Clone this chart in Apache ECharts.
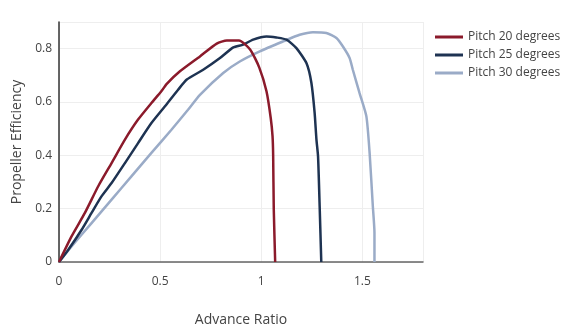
<!DOCTYPE html>
<html>
<head>
<meta charset="utf-8">
<script src="https://cdn.jsdelivr.net/npm/echarts@6/dist/echarts.min.js"></script>
<style>
  html, body { margin: 0; padding: 0; background: #fff; }
  #chart { width: 567px; height: 336px; }
</style>
</head>
<body>
<div id="chart"></div>
<script>
// Propeller efficiency vs advance ratio for three blade pitch settings
const seriesNames = ['Pitch 20 degrees', 'Pitch 25 degrees', 'Pitch 30 degrees'];
const seriesColors = ['#8b1a2b', '#1e3352', '#9aabc7'];

const pitch20J   = [0, 0.062, 0.128, 0.194, 0.26, 0.326, 0.391, 0.457, 0.506, 0.533, 0.598, 0.697, 0.78, 0.83, 0.89, 0.945, 0.99, 1.026, 1.047, 1.056, 1.059, 1.062, 1.069];
const pitch20Eff = [0, 0.096, 0.184, 0.284, 0.371, 0.459, 0.534, 0.596, 0.64, 0.668, 0.715, 0.771, 0.819, 0.831, 0.831, 0.797, 0.73, 0.64, 0.54, 0.471, 0.4, 0.2, 0];

const pitch25J   = [0, 0.046, 0.112, 0.161, 0.21, 0.26, 0.326, 0.391, 0.457, 0.523, 0.589, 0.632, 0.713, 0.796, 0.862, 0.911, 0.96, 1.026, 1.075, 1.125, 1.174, 1.224, 1.248, 1.264, 1.273, 1.281, 1.289, 1.297];
const pitch25Eff = [0, 0.046, 0.121, 0.184, 0.246, 0.296, 0.371, 0.446, 0.521, 0.583, 0.646, 0.684, 0.721, 0.765, 0.805, 0.815, 0.834, 0.846, 0.842, 0.834, 0.802, 0.745, 0.672, 0.56, 0.46, 0.396, 0.208, 0];

const pitch30J   = [0, 0.062, 0.161, 0.26, 0.358, 0.457, 0.556, 0.638, 0.697, 0.812, 0.894, 0.993, 1.108, 1.19, 1.256, 1.322, 1.372, 1.404, 1.437, 1.453, 1.486, 1.52, 1.536, 1.552, 1.56, 1.56];
const pitch30Eff = [0, 0.058, 0.146, 0.234, 0.321, 0.409, 0.496, 0.571, 0.627, 0.709, 0.752, 0.79, 0.827, 0.852, 0.862, 0.859, 0.84, 0.808, 0.765, 0.721, 0.634, 0.546, 0.409, 0.208, 0.11, 0];

const xTicks = [0, 0.5, 1, 1.5];
const yTicks = [0, 0.2, 0.4, 0.6, 0.8];

const pairs = (xs, ys) => xs.map((x, i) => [x, ys[i]]);
const curves = [
  pairs(pitch20J, pitch20Eff),
  pairs(pitch25J, pitch25Eff),
  pairs(pitch30J, pitch30Eff)
];

const font = '"Open Sans", "Noto Sans", sans-serif';
const chart = echarts.init(document.getElementById('chart'), null, { renderer: 'canvas' });

chart.setOption({
  animation: false,
  backgroundColor: '#fff',
  textStyle: { fontFamily: font },
  grid: { left: 59, right: 144, top: 22, bottom: 74, containLabel: false, outerBoundsMode: 'none' },
  legend: {
    orient: 'vertical',
    left: 435,
    top: 28,
    padding: 0,
    itemWidth: 28,
    itemHeight: 3,
    itemGap: 0,
    icon: 'rect',
    data: seriesNames,
    textStyle: { fontFamily: font, fontSize: 12, color: '#444', lineHeight: 18 }
  },
  xAxis: {
    type: 'value',
    min: 0,
    max: 1.8,
    interval: 0.5,
    name: 'Advance Ratio',
    nameLocation: 'middle',
    nameGap: 51,
    nameTextStyle: { fontFamily: font, fontSize: 14, color: '#444' },
    axisLine: { show: true, lineStyle: { color: '#666', width: 1.5 } },
    axisTick: { show: false },
    axisLabel: {
      margin: 14, fontSize: 12, color: '#444', fontFamily: font,
      formatter: v => (xTicks.includes(v) ? String(v) : '')
    },
    splitLine: { show: true, lineStyle: { color: '#eee', width: 1 } }
  },
  yAxis: {
    type: 'value',
    min: 0,
    max: 0.9,
    interval: 0.2,
    name: 'Propeller Efficiency',
    nameLocation: 'middle',
    nameGap: 34,
    nameRotate: 90,
    nameTextStyle: { fontFamily: font, fontSize: 14, color: '#444' },
    axisLine: { show: true, lineStyle: { color: '#333', width: 1.5 } },
    axisTick: { show: false },
    axisLabel: {
      margin: 7, fontSize: 12, color: '#444', fontFamily: font,
      formatter: v => (yTicks.some(t => Math.abs(t - v) < 1e-9) ? String(+v.toFixed(1)) : ''),
      showMaxLabel: false
    },
    splitLine: { show: true, lineStyle: { color: '#eee', width: 1 } }
  },
  series: curves.map((data, i) => ({
    name: seriesNames[i],
    type: 'line',
    data: data,
    showSymbol: false,
    symbol: 'none',
    smooth: 0.2,
    color: seriesColors[i],
    lineStyle: { color: seriesColors[i], width: 2.5 },
    z: 3 - i
  }))
});
</script>
</body>
</html>
